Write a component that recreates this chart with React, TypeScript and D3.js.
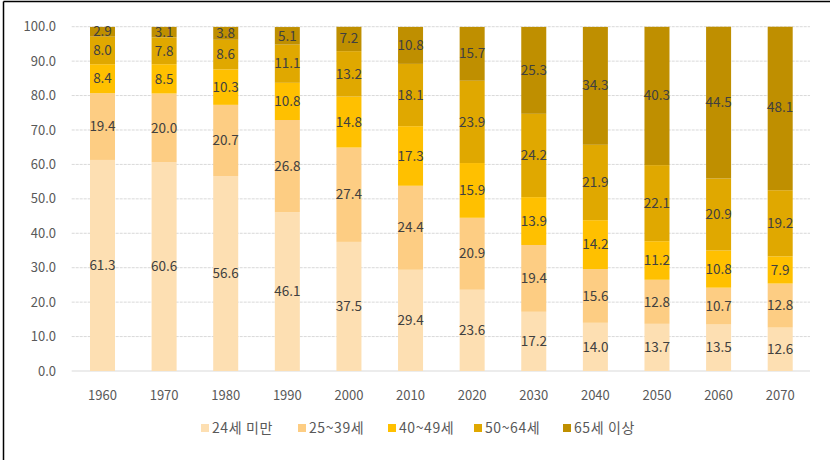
import React from "react";
import * as d3 from "d3";

const years = ["1960", "1970", "1980", "1990", "2000", "2010", "2020", "2030", "2040", "2050", "2060", "2070"];
const seriesNames = ["24세 미만", "25~39세", "40~49세", "50~64세", "65세 이상"];
const under24 = [61.3, 60.6, 56.6, 46.1, 37.5, 29.4, 23.6, 17.2, 14.0, 13.7, 13.5, 12.6];
const age25to39 = [19.4, 20.0, 20.7, 26.8, 27.4, 24.4, 20.9, 19.4, 15.6, 12.8, 10.7, 12.8];
const age40to49 = [8.4, 8.5, 10.3, 10.8, 14.8, 17.3, 15.9, 13.9, 14.2, 11.2, 10.8, 7.9];
const age50to64 = [8.0, 7.8, 8.6, 11.1, 13.2, 18.1, 23.9, 24.2, 21.9, 22.1, 20.9, 19.2];
const age65plus = [2.9, 3.1, 3.8, 5.1, 7.2, 10.8, 15.7, 25.3, 34.3, 40.3, 44.5, 48.1];
const yTicks = [0, 10, 20, 30, 40, 50, 60, 70, 80, 90, 100];

const colors = ["#FDDFB2", "#FDCD83", "#FFC000", "#E0A800", "#BF8F00"];

export default function App() {
  const W = 830, H = 460;
  const x = d3.scaleBand<string>().domain(years).range([71.7, 811]).paddingInner(0.594).paddingOuter(0.297);
  const y = d3.scaleLinear().domain([0, 100]).range([371, 26.7]);
  const seriesVals = [under24, age25to39, age40to49, age50to64, age65plus];
  const rows = years.map((yr, i) => {
    const o: any = { year: yr };
    seriesNames.forEach((s, k) => (o[s] = seriesVals[k][i]));
    return o;
  });
  const stacked = d3.stack<any>().keys(seriesNames)(rows);
  const font = "'Malgun Gothic', 'Noto Sans CJK KR', 'Noto Sans', sans-serif";
  const legendX = [205, 302, 392, 478, 567];

  return (
    <svg width={W} height={H} style={{ position: "absolute", left: 0, top: 0, background: "#fff" }} fontFamily={font}>
      <defs>
        <clipPath id="plotclip">
          <rect x={60} y={y(100)} width={770} height={y(0) - y(100)} />
        </clipPath>
      </defs>
      <line x1={3.5} y1={1.5} x2={W} y2={1.5} stroke="#000" strokeWidth={1.5} />
      <line x1={3.5} y1={1.5} x2={3.5} y2={H} stroke="#000" strokeWidth={1.5} />
      {yTicks.map((t) => (
        <g key={t}>
          <line x1={71.7} x2={810} y1={y(t)} y2={y(t)} stroke="#d9d9d9" strokeWidth={1} strokeDasharray={t === 0 ? undefined : "3 1"} />
          <text x={56} y={y(t)} dy="0.35em" textAnchor="end" fontSize={13} fill="#595959">{t.toFixed(1)}</text>
        </g>
      ))}
      <g clipPath="url(#plotclip)">
        {stacked.map((layer, k) => (
          <g key={k} fill={colors[k]}>
            {layer.map((d, i) => (
              <rect key={i} x={x(years[i])} y={y(d[1])} width={x.bandwidth()} height={y(d[0]) - y(d[1])} />
            ))}
          </g>
        ))}
      </g>
      {stacked.map((layer, k) => (
        <g key={"l" + k}>
          {layer.map((d, i) => (
            <text key={i} x={(x(years[i]) as number) + x.bandwidth() / 2} y={y((d[0] + d[1]) / 2)} dy="0.35em"
              textAnchor="middle" fontSize={13.5} fill="#404040">{seriesVals[k][i].toFixed(1)}</text>
          ))}
        </g>
      ))}
      {years.map((yr) => (
        <text key={yr} x={(x(yr) as number) + x.bandwidth() / 2} y={395} dy="0.35em" textAnchor="middle" fontSize={13} fill="#595959">{yr}</text>
      ))}
      {seriesNames.map((s, k) => (
        <g key={s}>
          <rect x={legendX[k] - 4} y={424} width={8} height={8} fill={colors[k]} />
          <text x={legendX[k] + 7} y={428} dy="0.35em" fontSize={14} letterSpacing={0.6} fill="#595959">{s}</text>
        </g>
      ))}
    </svg>
  );
}
